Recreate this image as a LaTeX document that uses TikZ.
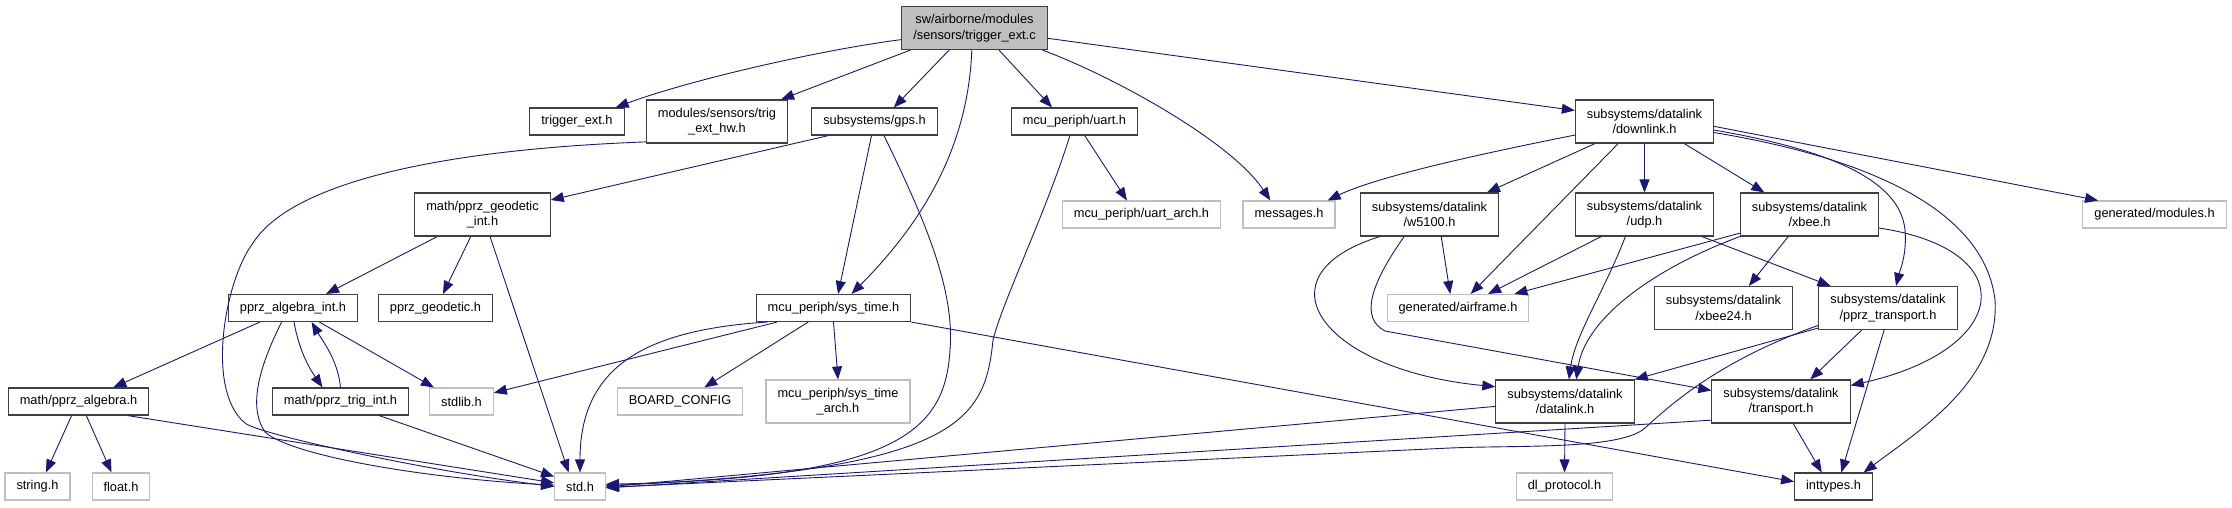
\documentclass[tikz,border=0pt]{standalone}
\usepackage{fontspec}
\setmainfont{Liberation Sans}
\usetikzlibrary{arrows.meta}
\definecolor{Navy}{HTML}{191970}
\definecolor{Grey}{HTML}{BFBFBF}
\definecolor{Frame}{HTML}{404040}

\begin{document}
\begin{tikzpicture}[x=1pt,y=-1pt,>={Triangle[length=13pt,width=10pt]},
    box/.style={draw=Frame,line width=1.1pt,fill=white,minimum height=27pt,inner xsep=11.5pt,
      inner ysep=2pt,align=center,font=\fontsize{12.8}{15.5}\selectfont},
    ext/.style={box,draw=Grey},
    two/.style={minimum height=43pt},
    dep/.style={->,Navy,line width=0.9pt}]
  \useasboundingbox (0,0) rectangle (2232,507);
  % rank 0
  \node[box,two,fill=Grey] (root) at (974.5,28) {sw/airborne/modules\\/sensors/trigger\_ext.c};
  % rank 1
  \node[box] (trig) at (577,121.5) {trigger\_ext.h};
  \node[box,two] (trighw) at (717,121.5) {modules/sensors/trig\\\_ext\_hw.h};
  \node[box] (gps) at (874.5,121.5) {subsystems/gps.h};
  \node[box] (uart) at (1074.5,121.5) {mcu\_periph/uart.h};
  \node[box,two] (downlink) at (1644.5,121.5) {subsystems/datalink\\/downlink.h};
  % rank 2
  \node[box,two] (geoint) at (482.5,214.5) {math/pprz\_geodetic\\\_int.h};
  \node[ext] (uartarch) at (1141.5,214.5) {mcu\_periph/uart\_arch.h};
  \node[ext] (messages) at (1289,214.5) {messages.h};
  \node[box,two] (w5100) at (1429.5,214.5) {subsystems/datalink\\/w5100.h};
  \node[box,two] (udp) at (1644.5,214.5) {subsystems/datalink\\/udp.h};
  \node[box,two] (xbee) at (1809.5,214.5) {subsystems/datalink\\/xbee.h};
  \node[ext] (modules) at (2154.5,214.5) {generated/modules.h};
  % rank 3
  \node[box] (algint) at (293,308) {pprz\_algebra\_int.h};
  \node[box] (geodetic) at (435.5,308) {pprz\_geodetic.h};
  \node[box] (systime) at (833.5,308) {mcu\_periph/sys\_time.h};
  \node[ext] (airframe) at (1458,308) {generated/airframe.h};
  \node[box,two] (xbee24) at (1723.5,308) {subsystems/datalink\\/xbee24.h};
  \node[box,two] (pprzt) at (1888,308) {subsystems/datalink\\/pprz\_transport.h};
  % rank 4
  \node[box] (algebra) at (78.5,401.5) {math/pprz\_algebra.h};
  \node[box] (trigint) at (340.5,401.5) {math/pprz\_trig\_int.h};
  \node[ext] (stdlib) at (461.5,401.5) {stdlib.h};
  \node[ext] (board) at (680,401.5) {BOARD\_CONFIG};
  \node[ext,two] (timearch) at (838,401.5) {mcu\_periph/sys\_time\\\_arch.h};
  \node[box,two] (datalink) at (1565,401.5) {subsystems/datalink\\/datalink.h};
  \node[box,two] (transport) at (1781,401.5) {subsystems/datalink\\/transport.h};
  % rank 5
  \node[ext] (string) at (37.5,486.5) {string.h};
  \node[ext] (float) at (121,486.5) {float.h};
  \node[ext] (std) at (580,486.5) {std.h};
  \node[ext] (dlproto) at (1564.5,486.5) {dl\_protocol.h};
  \node[box] (inttypes) at (1833.5,486.5) {inttypes.h};
  % straight includes
  \foreach \u/\v in {root.199/trighw.19,root.221/gps.36,root.318/uart.148,root.352/downlink.171,
      gps.197/geoint.12,gps.258/systime.72,uart.306/uartarch.136,
      geoint.206/algint.23,geoint.242/geodetic.62,geoint.289/std.129,
      algint.203/algebra.22,algint.332/stdlib.153,algebra.244/string.59,algebra.299/float.124,
      algebra.344/std.172,trigint.340/std.159,
      systime.194/stdlib.15,systime.209/board.30,systime.south/timearch.north,systime.south east/inttypes.173,
      downlink.204/w5100.21,downlink.220/airframe.48,downlink.south/udp.north,downlink.331/xbee.154,
      downlink.356/modules.166,w5100.298/airframe.119,udp.207/airframe.25,udp.339/pprzt.159,
      xbee.195/airframe.14,xbee.226/xbee24.41,pprzt.196/datalink.north east,pprzt.220/transport.37,
      pprzt.260/inttypes.61,transport.299/inttypes.130,transport.195/std.-3,datalink.184/std.-1,
      datalink.south/dlproto.north}
    \draw[dep] (\u) -- (\v);
  % curved includes
  \draw[dep] (root.189) .. controls (820,50) and (690,80) .. (trig.20);
  \draw[dep] (root.263) .. controls (968,150) and (920,225) .. (systime.38);
  \draw[dep] (root.342) .. controls (1110,75) and (1230,140) .. (messages.143);
  \draw[dep] (trighw.196) .. controls (430,150) and (290,185) .. (253,243)
    .. controls (225,280) and (205,390) .. (245,423)
    .. controls (255,433) and (420,470) .. (std.west);
  \draw[dep] (gps.304) .. controls (925,220) and (955,290) .. (950,350)
    .. controls (945,430) and (900,478) .. (std.5);
  \draw[dep] (uart.252) .. controls (1045,215) and (1003,300) .. (993,340)
    .. controls (985,420) and (960,470) .. (std.2);
  \draw[dep] (algint.231) .. controls (255,375) and (250,410) .. (265,432)
    .. controls (290,455) and (420,478) .. (std.177);
  \draw[dep] (algint.274) .. controls (300,355) and (312,372) .. (trigint.142);
  \draw[dep] (trigint.north) .. controls (338,360) and (322,340) .. (algint.323);
  \draw[dep] (systime.192) .. controls (640,330) and (580,370) .. (std.north);
  \draw[dep] (downlink.191) .. controls (1500,150) and (1380,175) .. (messages.20);
  \draw[dep] (downlink.353) .. controls (1830,150) and (1900,180) .. (1905,230)
    .. controls (1907,255) and (1900,270) .. (pprzt.70);
  \draw[dep] (downlink.351) .. controls (1880,160) and (1985,215) .. (1995,300)
    .. controls (2000,380) and (1920,430) .. (inttypes.25);
  \draw[dep] (w5100.204) .. controls (1255,275) and (1320,370) .. (datalink.168);
  \draw[dep] (w5100.221) .. controls (1370,285) and (1360,318) .. (1385,331) -- (transport.171);
  \draw[dep] (udp.229) .. controls (1605,290) and (1575,335) .. (datalink.80);
  \draw[dep] (xbee.south west) .. controls (1650,270) and (1585,320) .. (datalink.63);
  \draw[dep] (xbee.349) .. controls (2025,250) and (2010,350) .. (transport.13);
  \draw[dep] (pprzt.194) .. controls (1720,360) and (1670,405) .. (1645,428)
    .. controls (1620,450) and (1520,445) .. (1450,448) -- (std.-2);
\end{tikzpicture}
\end{document}
